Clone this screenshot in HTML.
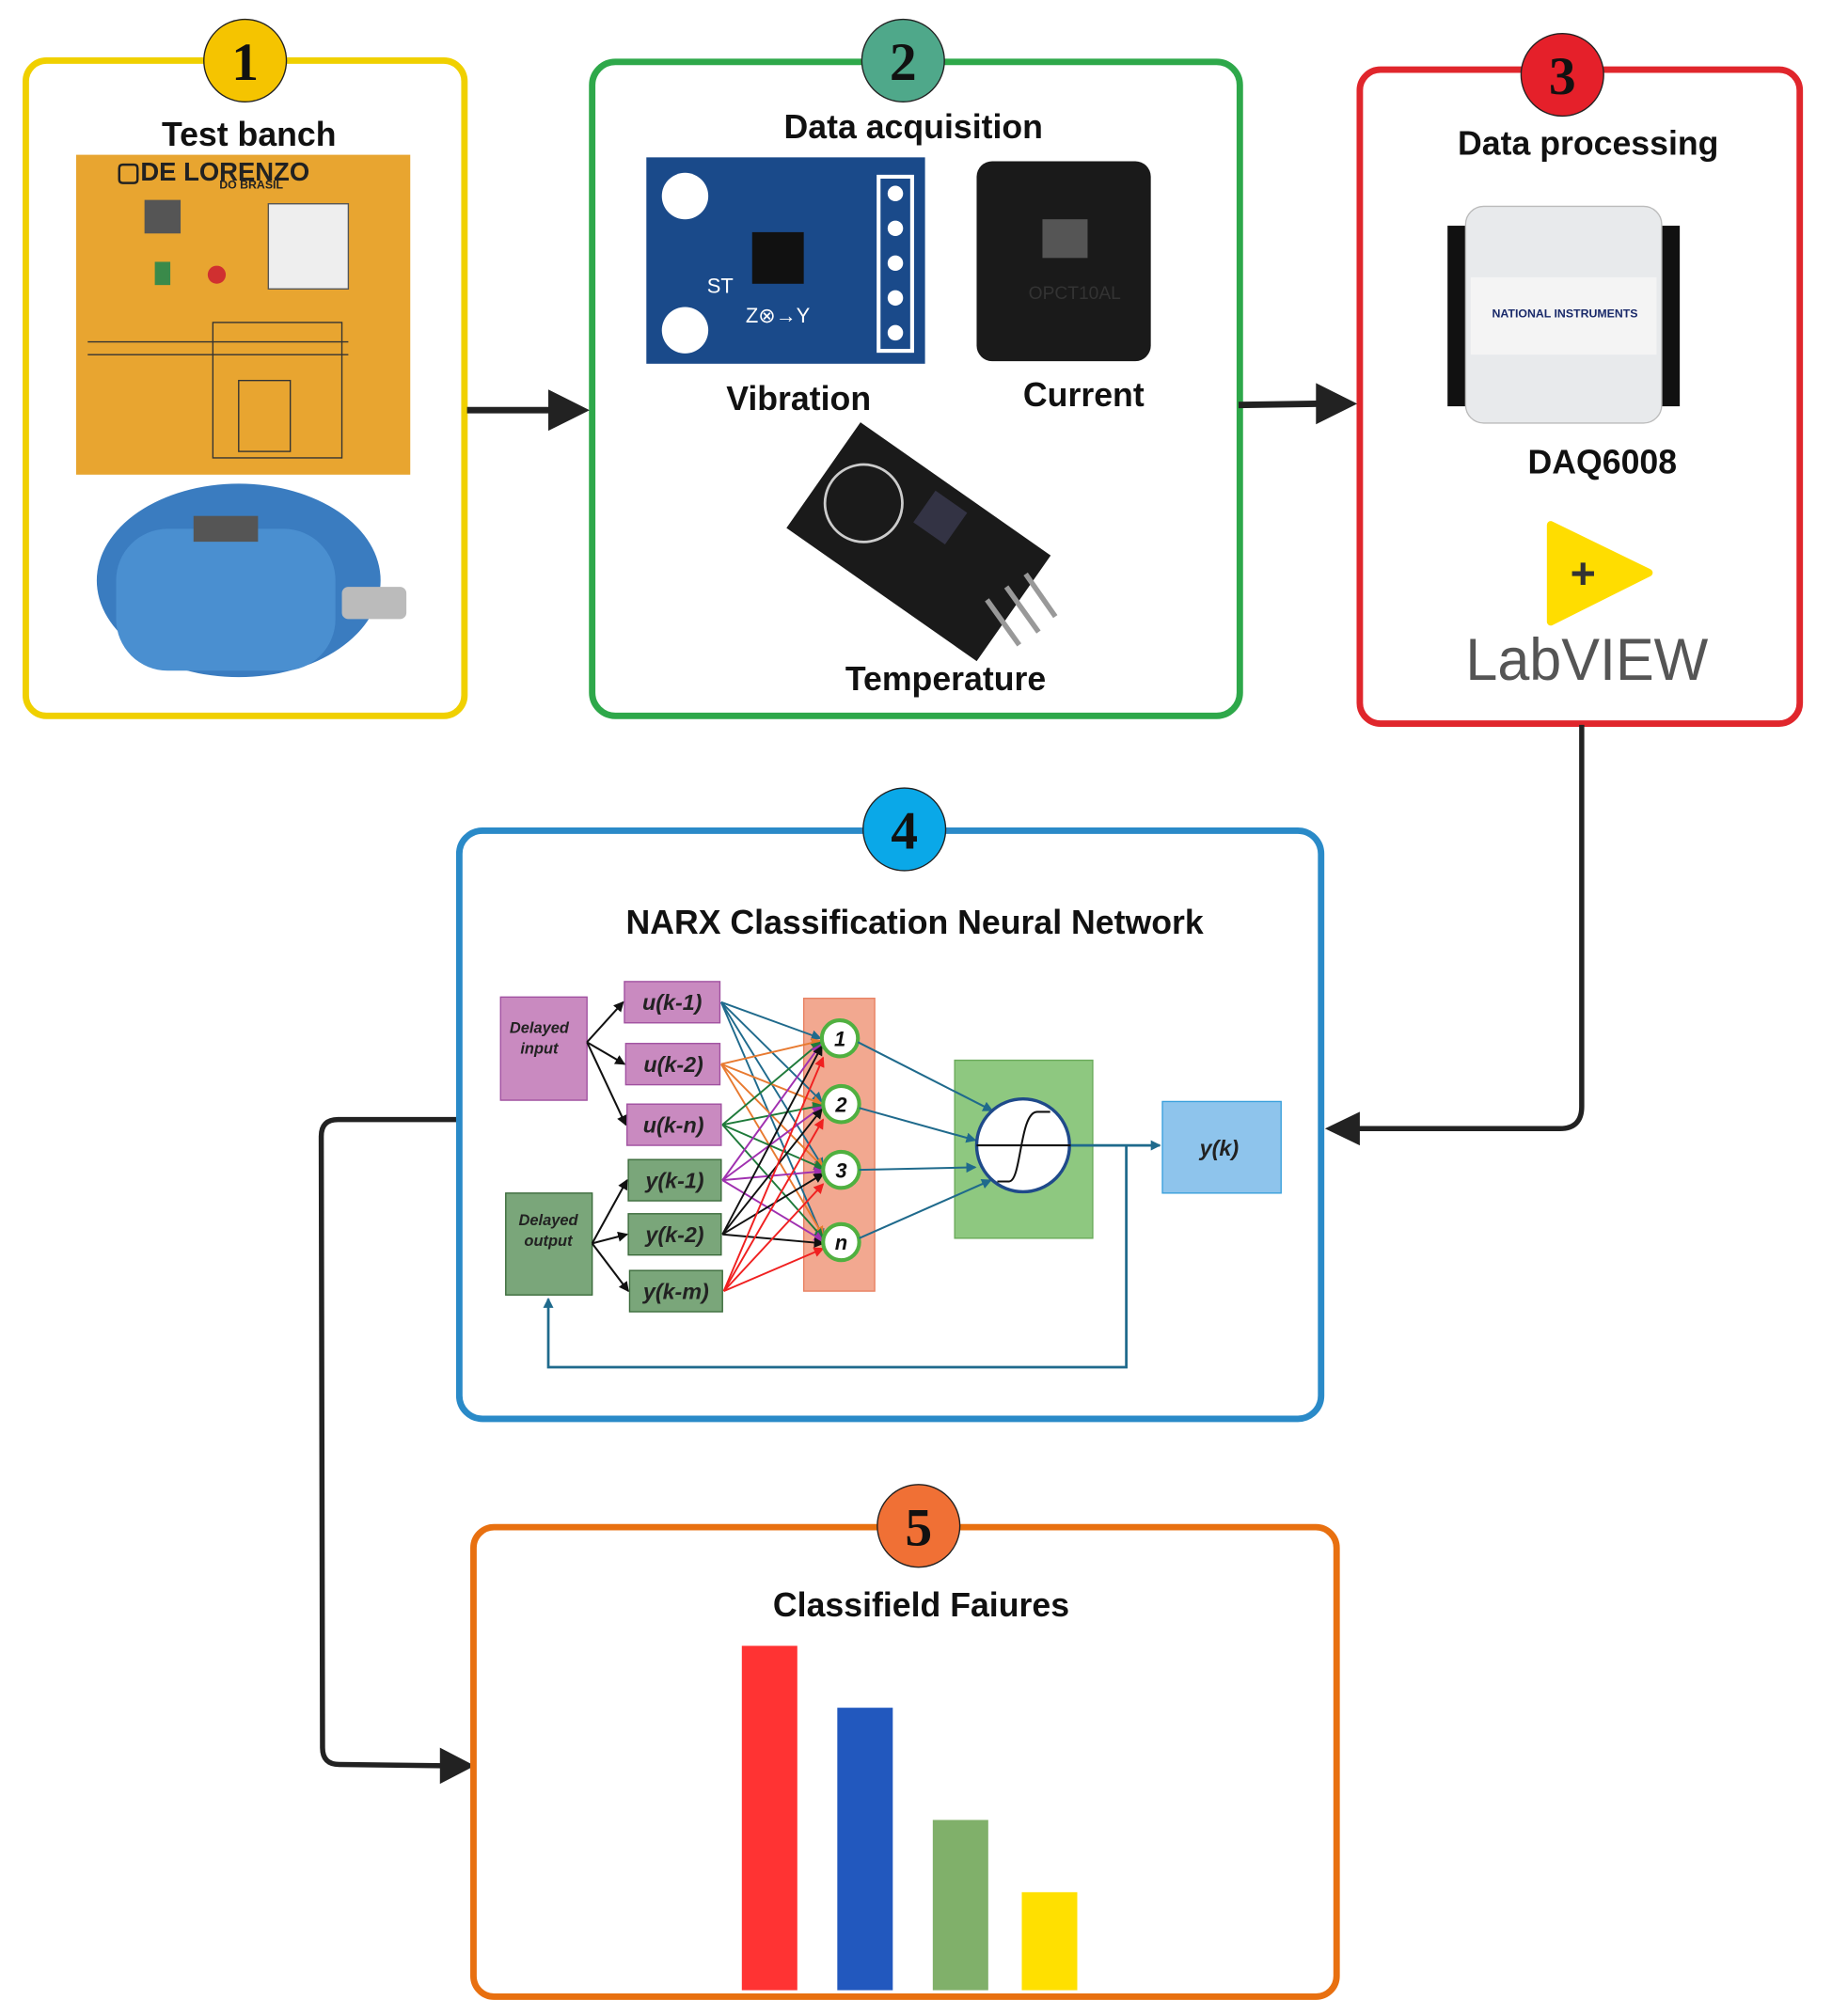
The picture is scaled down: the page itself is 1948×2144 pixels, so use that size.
<!DOCTYPE html>
<html><head><meta charset="utf-8"><style>
html,body{margin:0;padding:0;background:#fff;}
svg{display:block;}
text{font-family:"Liberation Sans",sans-serif;}
</style></head><body>
<svg width="1948" height="2144" viewBox="0 0 1420 1563" preserveAspectRatio="none" xmlns="http://www.w3.org/2000/svg">
<defs>
<marker id="ab" markerWidth="8" markerHeight="8" refX="7" refY="4" orient="auto" markerUnits="userSpaceOnUse"><path d="M0,0 L8,4 L0,8 z" fill="#111"/></marker>
<marker id="at" markerWidth="8" markerHeight="8" refX="7" refY="4" orient="auto" markerUnits="userSpaceOnUse"><path d="M0,0 L8,4 L0,8 z" fill="#1f6a8c"/></marker>
<marker id="ao" markerWidth="8" markerHeight="8" refX="7" refY="4" orient="auto" markerUnits="userSpaceOnUse"><path d="M0,0 L8,4 L0,8 z" fill="#e87a30"/></marker>
<marker id="ar" markerWidth="8" markerHeight="8" refX="7" refY="4" orient="auto" markerUnits="userSpaceOnUse"><path d="M0,0 L8,4 L0,8 z" fill="#f02020"/></marker>
<marker id="ag" markerWidth="8" markerHeight="8" refX="7" refY="4" orient="auto" markerUnits="userSpaceOnUse"><path d="M0,0 L8,4 L0,8 z" fill="#1e7a3a"/></marker>
<marker id="ap" markerWidth="8" markerHeight="8" refX="7" refY="4" orient="auto" markerUnits="userSpaceOnUse"><path d="M0,0 L8,4 L0,8 z" fill="#a030b0"/></marker>
</defs>

<!-- Box 1 -->
<rect x="20" y="47" width="340" height="508" rx="16" fill="none" stroke="#f0d000" stroke-width="5"/>
<rect x="59" y="120" width="259" height="248" fill="#e8a530"/>
<text x="90" y="140" font-size="20" font-weight="bold" fill="#222">▢DE LORENZO</text>
<text x="170" y="146" font-size="9" font-weight="bold" fill="#222">DO BRASIL</text>
<rect x="208" y="158" width="62" height="66" fill="#eee" stroke="#555"/>
<rect x="112" y="155" width="28" height="26" fill="#555"/>
<circle cx="168" cy="213" r="7" fill="#d03030"/>
<rect x="120" y="203" width="12" height="18" fill="#3a8a4a"/>
<g stroke="#333" stroke-width="1" fill="none">
<rect x="165" y="250" width="100" height="105"/><rect x="185" y="295" width="40" height="55"/>
<line x1="68" y1="265" x2="270" y2="265"/><line x1="68" y1="275" x2="270" y2="275"/>
</g>
<ellipse cx="185" cy="450" rx="110" ry="75" fill="#3a7cc0"/>
<rect x="90" y="410" width="170" height="110" rx="40" fill="#4a8fd0"/>
<rect x="265" y="455" width="50" height="25" rx="5" fill="#bbb"/>
<rect x="150" y="400" width="50" height="20" fill="#555"/>
<circle cx="190" cy="47" r="32" fill="#f5c400" stroke="#222" stroke-width="1"/>
<text x="190" y="62" font-size="42" font-family="Liberation Serif" font-weight="bold" text-anchor="middle" fill="#111" style="font-family:'Liberation Serif',serif">1</text>
<text x="193" y="113" font-size="26" font-weight="bold" text-anchor="middle" fill="#111">Test banch</text>

<!-- Box 2 -->
<rect x="459" y="48" width="502" height="507" rx="18" fill="none" stroke="#2ea84a" stroke-width="5"/>
<rect x="501" y="122" width="216" height="160" fill="#1a4a8a"/>
<circle cx="531" cy="152" r="18" fill="#fff"/><circle cx="531" cy="256" r="18" fill="#fff"/>
<rect x="681" y="137" width="26" height="135" fill="none" stroke="#fff" stroke-width="3"/>
<g fill="#fff"><circle cx="694" cy="150" r="6"/><circle cx="694" cy="177" r="6"/><circle cx="694" cy="204" r="6"/><circle cx="694" cy="231" r="6"/><circle cx="694" cy="258" r="6"/></g>
<rect x="583" y="180" width="40" height="40" fill="#111"/>
<text x="548" y="227" font-size="16" fill="#fff">ST</text>
<text x="578" y="250" font-size="16" fill="#fff">Z⊗→Y</text>
<rect x="757" y="125" width="135" height="155" rx="12" fill="#1a1a1a"/>
<rect x="808" y="170" width="35" height="30" fill="#555"/>
<text x="833" y="232" font-size="14" fill="#333" text-anchor="middle">OPCT10AL</text>
<g transform="rotate(35 712 420)"><rect x="622" y="370" width="180" height="100" fill="#1a1a1a"/><circle cx="660" cy="420" r="30" fill="none" stroke="#ccc" stroke-width="2"/><rect x="700" y="380" width="30" height="30" fill="#334"/></g>
<g stroke="#999" stroke-width="4"><line x1="765" y1="465" x2="790" y2="500"/><line x1="780" y1="455" x2="805" y2="490"/><line x1="795" y1="445" x2="818" y2="478"/></g>
<circle cx="700" cy="47" r="32" fill="#4fa88a" stroke="#222" stroke-width="1"/>
<text x="700" y="62" font-size="42" font-weight="bold" text-anchor="middle" fill="#111" style="font-family:'Liberation Serif',serif">2</text>
<text x="708" y="107" font-size="26" font-weight="bold" text-anchor="middle" fill="#111">Data acquisition</text>
<text x="619" y="318" font-size="26" font-weight="bold" text-anchor="middle" fill="#111">Vibration</text>
<text x="840" y="315" font-size="26" font-weight="bold" text-anchor="middle" fill="#111">Current</text>
<text x="733" y="535" font-size="26" font-weight="bold" text-anchor="middle" fill="#111">Temperature</text>

<!-- Box 3 -->
<rect x="1054" y="54" width="341" height="507" rx="16" fill="none" stroke="#e0262c" stroke-width="5"/>
<rect x="1122" y="175" width="16" height="140" fill="#111"/><rect x="1286" y="175" width="16" height="140" fill="#111"/>
<rect x="1136" y="160" width="152" height="168" rx="14" fill="#e8eaec" stroke="#bbb"/>
<rect x="1140" y="215" width="144" height="60" fill="#f4f4f4"/>
<text x="1213" y="246" font-size="9" font-weight="bold" fill="#1a2a6a" text-anchor="middle">NATIONAL INSTRUMENTS</text>
<text x="1242" y="367" font-size="26" font-weight="bold" text-anchor="middle" fill="#111">DAQ6008</text>
<path d="M1202,407 L1278,444 L1202,482 Z" fill="#ffdd00" stroke="#ffdd00" stroke-width="6" stroke-linejoin="round"/>
<text x="1227" y="456" font-size="34" font-weight="bold" text-anchor="middle" fill="#333">+</text>
<text x="1230" y="527" font-size="46" text-anchor="middle" fill="#555" textLength="188" lengthAdjust="spacingAndGlyphs">LabVIEW</text>
<circle cx="1211" cy="58" r="32" fill="#e5202a" stroke="#222" stroke-width="1"/>
<text x="1211" y="73" font-size="42" font-weight="bold" text-anchor="middle" fill="#111" style="font-family:'Liberation Serif',serif">3</text>
<text x="1231" y="120" font-size="26" font-weight="bold" text-anchor="middle" fill="#111">Data processing</text>

<!-- arrows top -->
<line x1="362" y1="318" x2="430" y2="318" stroke="#222" stroke-width="5"/><path d="M425,302 L457,318 L425,334 Z" fill="#222"/>
<line x1="960" y1="314" x2="1025" y2="313" stroke="#222" stroke-width="5"/><path d="M1020,297 L1052,313 L1020,329 Z" fill="#222"/>
<path d="M1226,562 L1226,858 Q1226,875 1209,875 L1050,875" fill="none" stroke="#222" stroke-width="4"/>
<path d="M1054,862 L1027,875 L1054,888 Z" fill="#222"/>
<path d="M357,868 L262,868 Q249,868 249,881 L250,1355 Q250,1368 263,1368 L345,1369" fill="none" stroke="#222" stroke-width="4"/>
<path d="M341,1355 L368,1369 L341,1383 Z" fill="#222"/>

<!-- Box 4 -->
<rect x="356" y="644" width="668" height="456" rx="18" fill="none" stroke="#2a8ac8" stroke-width="5"/>
<circle cx="701" cy="643" r="32" fill="#0aa8e8" stroke="#222" stroke-width="1"/>
<text x="701" y="658" font-size="42" font-weight="bold" text-anchor="middle" fill="#111" style="font-family:'Liberation Serif',serif">4</text>
<text x="709" y="724" font-size="26" font-weight="bold" text-anchor="middle" fill="#111">NARX Classification Neural Network</text>

<rect x="388" y="773" width="67" height="80" fill="#c98ac0" stroke="#a050a0"/>
<text x="418" y="801" font-size="12" font-weight="bold" font-style="italic" text-anchor="middle" fill="#222">Delayed</text>
<text x="418" y="817" font-size="12" font-weight="bold" font-style="italic" text-anchor="middle" fill="#222">input</text>
<rect x="392" y="925" width="67" height="79" fill="#7aa67a" stroke="#3a6a3a"/>
<text x="425" y="950" font-size="12" font-weight="bold" font-style="italic" text-anchor="middle" fill="#222">Delayed</text>
<text x="425" y="966" font-size="12" font-weight="bold" font-style="italic" text-anchor="middle" fill="#222">output</text>
<g font-size="17" font-weight="bold" font-style="italic" text-anchor="middle" fill="#222">
<rect x="484" y="761" width="74" height="32" fill="#c98ac0" stroke="#a050a0"/><text x="521" y="783">u(k-1)</text>
<rect x="485" y="809" width="73" height="32" fill="#c98ac0" stroke="#a050a0"/><text x="522" y="831">u(k-2)</text>
<rect x="486" y="856" width="73" height="32" fill="#c98ac0" stroke="#a050a0"/><text x="522" y="878">u(k-n)</text>
<rect x="487" y="899" width="72" height="32" fill="#7aa67a" stroke="#3a6a3a"/><text x="523" y="921">y(k-1)</text>
<rect x="487" y="941" width="72" height="32" fill="#7aa67a" stroke="#3a6a3a"/><text x="523" y="963">y(k-2)</text>
<rect x="488" y="985" width="72" height="32" fill="#7aa67a" stroke="#3a6a3a"/><text x="524" y="1007">y(k-m)</text>
</g>
<g stroke="#111" stroke-width="1.5" fill="none" marker-end="url(#ab)">
<line x1="455" y1="808" x2="483" y2="777"/><line x1="455" y1="808" x2="484" y2="825"/><line x1="455" y1="808" x2="485" y2="872"/>
<line x1="459" y1="964" x2="486" y2="915"/><line x1="459" y1="964" x2="486" y2="957"/><line x1="459" y1="964" x2="487" y2="1001"/>
</g>
<rect x="623" y="774" width="55" height="227" fill="#f2a890" stroke="#e88060"/>
<g stroke-width="1.4" fill="none">
<g stroke="#1f6a8c" marker-end="url(#at)"><line x1="559" y1="777" x2="636" y2="805"/><line x1="559" y1="777" x2="637" y2="854"/><line x1="559" y1="777" x2="638" y2="905"/><line x1="559" y1="777" x2="638" y2="960"/></g>
<g stroke="#e87a30" marker-end="url(#ao)"><line x1="559" y1="825" x2="636" y2="807"/><line x1="559" y1="825" x2="637" y2="856"/><line x1="559" y1="825" x2="638" y2="905"/><line x1="559" y1="825" x2="638" y2="958"/></g>
<g stroke="#1e7a3a" marker-end="url(#ag)"><line x1="560" y1="872" x2="636" y2="808"/><line x1="560" y1="872" x2="637" y2="857"/><line x1="560" y1="872" x2="638" y2="906"/><line x1="560" y1="872" x2="638" y2="960"/></g>
<g stroke="#a030b0" marker-end="url(#ap)"><line x1="560" y1="915" x2="636" y2="810"/><line x1="560" y1="915" x2="637" y2="858"/><line x1="560" y1="915" x2="638" y2="908"/><line x1="560" y1="915" x2="638" y2="962"/></g>
<g stroke="#111" marker-end="url(#ab)"><line x1="560" y1="957" x2="637" y2="811"/><line x1="560" y1="957" x2="637" y2="860"/><line x1="560" y1="957" x2="638" y2="910"/><line x1="560" y1="957" x2="638" y2="964"/></g>
<g stroke="#f02020" marker-end="url(#ar)"><line x1="561" y1="1001" x2="638" y2="820"/><line x1="561" y1="1001" x2="638" y2="868"/><line x1="561" y1="1001" x2="638" y2="918"/><line x1="561" y1="1001" x2="638" y2="968"/></g>
</g>
<g fill="#fff" stroke="#50b040" stroke-width="3"><circle cx="651" cy="805" r="14"/><circle cx="652" cy="856" r="14"/><circle cx="652" cy="907" r="14"/><circle cx="652" cy="963" r="14"/></g>
<g font-size="16" font-weight="bold" font-style="italic" text-anchor="middle" fill="#111"><text x="651" y="811">1</text><text x="652" y="862">2</text><text x="652" y="913">3</text><text x="652" y="969">n</text></g>
<rect x="740" y="822" width="107" height="138" fill="#8ec880" stroke="#6aaa5a"/>
<g stroke="#1f6a8c" stroke-width="1.5" fill="none" marker-end="url(#at)">
<line x1="665" y1="808" x2="769" y2="861"/><line x1="666" y1="859" x2="756" y2="884"/><line x1="666" y1="907" x2="756" y2="905"/><line x1="666" y1="960" x2="768" y2="915"/>
</g>
<circle cx="793" cy="888" r="36" fill="#fff" stroke="#1f4a8a" stroke-width="2.5"/>
<line x1="757" y1="888" x2="830" y2="888" stroke="#111" stroke-width="1.5"/>
<path d="M773,916 L782,916 C792,916 790,862 804,862 L814,862" fill="none" stroke="#111" stroke-width="1.5"/>
<line x1="830" y1="888" x2="899" y2="888" stroke="#1f6a8c" stroke-width="2" marker-end="url(#at)"/>
<path d="M873,888 L873,1060 L425,1060 L425,1007" fill="none" stroke="#1f6a8c" stroke-width="2" marker-end="url(#at)"/>
<rect x="901" y="854" width="92" height="71" fill="#8ec4ec" stroke="#3aa0dc"/>
<text x="945" y="896" font-size="17" font-weight="bold" font-style="italic" text-anchor="middle" fill="#222">y(k)</text>

<!-- Box 5 -->
<rect x="367" y="1184" width="669" height="364" rx="16" fill="none" stroke="#e87010" stroke-width="5"/>
<circle cx="712" cy="1183" r="32" fill="#f07035" stroke="#222" stroke-width="1"/>
<text x="712" y="1198" font-size="42" font-weight="bold" text-anchor="middle" fill="#111" style="font-family:'Liberation Serif',serif">5</text>
<text x="714" y="1253" font-size="26" font-weight="bold" text-anchor="middle" fill="#111">Classifield Faiures</text>
<rect x="575" y="1276" width="43" height="267" fill="#ff3333"/>
<rect x="649" y="1324" width="43" height="219" fill="#2258be"/>
<rect x="723" y="1411" width="43" height="132" fill="#80b06a"/>
<rect x="792" y="1467" width="43" height="76" fill="#ffe000"/>
</svg>
</body></html>
